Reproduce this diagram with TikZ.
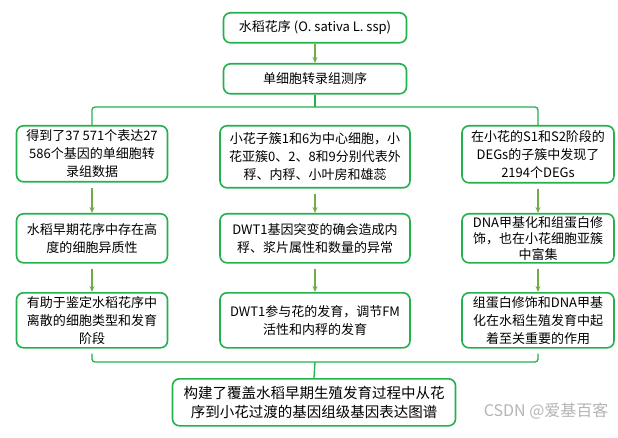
\documentclass[tikz,border=0pt]{standalone}
\usepackage{fontspec}
\newfontfamily\cjk{Noto Sans CJK SC}
\usetikzlibrary{arrows.meta}
\definecolor{boxgreen}{HTML}{22B14C}
\definecolor{arrgreen}{HTML}{70AD47}
\definecolor{wmgray}{HTML}{B4B4B4}

\begin{document}
\begin{tikzpicture}[x=1bp,y=-1bp,
 box/.style={draw=boxgreen,line width=1.6bp,rounded corners=7bp,fill=white,align=center,inner sep=2bp,anchor=north,font=\cjk\fontsize{13bp}{18bp}\selectfont},
 arr/.style={arrgreen,line width=1.3bp,-{Stealth[length=6bp,width=5bp]}},
 fork/.style={boxgreen,line width=1.3bp,rounded corners=3bp}]
\useasboundingbox (0,0) rectangle (618,438);
\node[box,minimum width=183bp,minimum height=30bp] (spec) at (315,12){水稻花序 (O. sativa L. ssp)};
\node[box,minimum width=183bp,minimum height=30bp] (seq) at (315,63){单细胞转录组测序};
% first row
\node[box,minimum width=151bp,minimum height=56bp] (a1) at (92,125){得到了37 571个表达27\\586个基因的单细胞转\\录组数据};
\node[box,minimum width=190bp,minimum height=62bp] (b1) at (315,125){小花子簇1和6为中心细胞，小\\花亚簇0、2、8和9分别代表外\\稃、内稃、小叶房和雄蕊};
\node[box,minimum width=152bp,minimum height=57bp] (c1) at (538,125){在小花的S1和S2阶段的\\DEGs的子簇中发现了\\2194个DEGs};
% second row
\node[box,minimum width=151bp,minimum height=49bp] (a2) at (92,213){水稻早期花序中存在高\\度的细胞异质性};
\node[box,minimum width=190bp,minimum height=49bp] (b2) at (315,213){DWT1基因突变的确会造成内\\稃、浆片属性和数量的异常};
\node[box,minimum width=152bp,minimum height=49bp,font=\cjk\fontsize{13bp}{16bp}\selectfont] (c2) at (538,213){DNA甲基化和组蛋白修\\饰，也在小花细胞亚簇\\中富集};
% third row
\node[box,minimum width=151bp,minimum height=55bp] (a3) at (92,292){有助于鉴定水稻花序中\\离散的细胞类型和发育\\阶段};
\node[box,minimum width=190bp,minimum height=55bp] (b3) at (315,292){DWT1参与花的发育，调节FM\\活性和内稃的发育};
\node[box,minimum width=152bp,minimum height=55bp] (c3) at (538,292){组蛋白修饰和DNA甲基\\化在水稻生殖发育中起\\着至关重要的作用};
\node[box,minimum width=283bp,minimum height=47bp,font=\cjk\fontsize{14.5bp}{19bp}\selectfont] (fin) at (314,378){构建了覆盖水稻早期生殖发育过程中从花\\序到小花过渡的基因组级基因表达图谱};
\node[text=wmgray,font=\cjk\fontsize{16bp}{18bp}\selectfont,anchor=east] (wm) at (612,411){CSDN @爱基百客};
\draw[arr] (spec) -- (seq);
\coordinate (fk) at (315,107);
\coordinate (bk) at (315,362);
\draw[fork] (seq.south) -- (fk);
\draw[fork] (a1.north) |- (fk) -| (c1.north);
\foreach \c in {a,b,c}{
 \draw[arr,shorten <=5bp] (\c1) -- (\c2);
 \draw[arr,shorten <=5bp] (\c2) -- (\c3);
}
\draw[fork] ([yshift=-5bp]a3.south) |- (bk) -| ([yshift=-5bp]c3.south);
\draw[fork] (bk) -- (fin.north);
\end{tikzpicture}
\end{document}
